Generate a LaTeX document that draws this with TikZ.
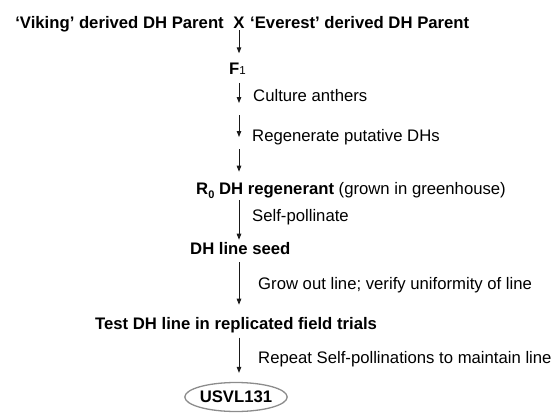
\documentclass[tikz,border=0pt]{standalone}
\usepackage{fontspec}
\setmainfont{Liberation Sans}
\usetikzlibrary{arrows.meta,shapes.geometric}
\begin{document}
\begin{tikzpicture}[x=1pt,y=-1pt,
  txt/.style={inner sep=0pt,anchor=base west,font=\fontsize{16.7}{20}\selectfont},
  btxt/.style={txt,font=\fontsize{16.7}{20}\selectfont\bfseries},
  arr/.style={line width=0.9pt,draw=black!90,-{Triangle[length=6pt,width=4.5pt]}},
  endbox/.style={ellipse,draw=black!45,line width=1.3pt,minimum width=98pt,minimum height=29pt,inner sep=0pt,font=\fontsize{16.7}{20}\selectfont\bfseries}]
\useasboundingbox (0,0) rectangle (556,415);
% title
\node[btxt,anchor=base] (X) at (239,28) {X};
\node[btxt,anchor=base east] (left) at (224,28) {‘Viking’ derived DH Parent};
\node[btxt] (right) at (250,28) {‘Everest’ derived DH Parent};
% steps
\node[btxt] (F1) at (229,74) {F{\fontsize{11.5}{11.5}\selectfont\mdseries\raisebox{-0.6pt}{1}}};
\node[btxt] (R0) at (196,194) {R{\fontsize{11}{11}\selectfont\raisebox{-4pt}{0}} DH regenerant \mdseries(grown in greenhouse)};
\node[btxt] (seed) at (190,254) {DH line seed};
\node[btxt] (test) at (95,329) {Test DH line in replicated field trials};
\node[endbox] (usvl) at (236,397) {USVL131};
% free arrow ends
\coordinate (a2e) at (239,103);
\coordinate (a3s) at (239,115);
\coordinate (a3e) at (239,137);
\coordinate (a4s) at (239,149);
% arrows
\draw[arr,shorten <=2pt,shorten >=9pt] (X.south) -- (X.south |- F1.north);
\draw[arr,shorten <=8pt] (X |- F1.south) -- (a2e);
\draw[arr] (a3s) -- (a3e);
\draw[arr,shorten >=10pt] (a4s) -- (X |- R0.north);
\draw[arr,shorten <=2pt,shorten >=2pt] (X |- R0.south) -- (X |- seed.north);
\draw[arr,shorten <=8pt,shorten >=12pt] (X |- seed.south) -- (X |- test.north);
\draw[arr,shorten <=5pt,shorten >=9pt] (X |- test.south) -- (X |- usvl.north);
% labels
\node[txt] (l2) at (253,101) {Culture anthers};
\node[txt] (l3) at (252,141) {Regenerate putative DHs};
\node[txt] (l5) at (252,221) {Self-pollinate};
\node[txt] (l6) at (258,289) {Grow out line; verify uniformity of line};
\node[txt] (l7) at (258,363) {Repeat Self-pollinations to maintain line};
\end{tikzpicture}
\end{document}
